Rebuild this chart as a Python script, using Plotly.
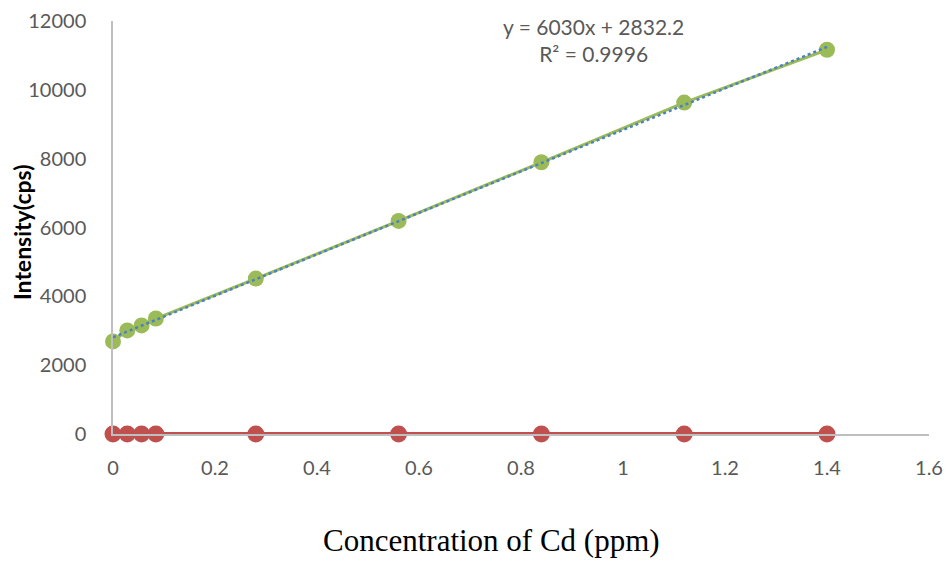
import numpy as np
import plotly.graph_objects as go

conc = [0, 0.028, 0.056, 0.084, 0.28, 0.56, 0.84, 1.12, 1.4]
intensity = [2690, 3010, 3155, 3355, 4515, 6190, 7895, 9630, 11165]
blank = [0, 0, 0, 0, 0, 0, 0, 0, 0]
equation_text = "y = 6030x + 2832.2<br>R² = 0.9996"
x_title = "Concentration of Cd (ppm)"
y_title = "<b>Intensity(cps)</b>"
x_ticks = [0, 0.2, 0.4, 0.6, 0.8, 1, 1.2, 1.4, 1.6]
x_tick_text = ["0", "0.2", "0.4", "0.6", "0.8", "1", "1.2", "1.4", "1.6"]
y_ticks = [0, 2000, 4000, 6000, 8000, 10000, 12000]

GREEN = "#9BBB59"
RED = "#C0504D"
BLUE = "#4F81BD"
GRAY = "#595959"

slope, intercept = np.polyfit(conc, intensity, 1)
trend_x = [min(conc), max(conc)]
trend_y = [slope * v + intercept for v in trend_x]

fig = go.Figure()
fig.add_trace(go.Scatter(x=conc, y=blank, mode="lines+markers",
                         line=dict(color=RED, width=4),
                         marker=dict(color=RED, size=17),
                         cliponaxis=False, showlegend=False))
fig.add_trace(go.Scatter(x=conc, y=intensity, mode="lines+markers",
                         line=dict(color=GREEN, width=3),
                         marker=dict(color=GREEN, size=16),
                         cliponaxis=False, showlegend=False))
fig.add_trace(go.Scatter(x=trend_x, y=trend_y, mode="lines",
                         line=dict(color=BLUE, width=2.5, dash="dot"),
                         cliponaxis=False, showlegend=False))

fig.add_annotation(x=0.943, y=11440, xref="x", yref="y", text=equation_text,
                   showarrow=False, align="center", yanchor="middle",
                   font=dict(family="Lato", size=21, color=GRAY))
fig.add_annotation(x=0.464, y=-0.259, xref="paper", yref="paper", text=x_title,
                   showarrow=False, xanchor="center", yanchor="middle",
                   font=dict(family="Liberation Serif", size=31, color="black"))
fig.add_annotation(x=-0.1115, y=0.489, xref="paper", yref="paper", text=y_title,
                   showarrow=False, textangle=-90, xanchor="center", yanchor="middle",
                   font=dict(family="Lato", size=23, color="black"))

fig.update_layout(
    width=943, height=555,
    margin=dict(l=105, r=22, t=13, b=129),
    plot_bgcolor="white", paper_bgcolor="white",
    font=dict(family="Lato", color=GRAY),
    xaxis=dict(range=[0, 1.6], tickvals=x_ticks, ticktext=x_tick_text,
               showgrid=False, zeroline=False, showline=True,
               linecolor="#BFBFBF", linewidth=1.5, automargin=False,
               tickfont=dict(family="Lato", size=20, color=GRAY),
               ticks="", ticklabelstandoff=15, ticklabeloverflow="allow"),
    yaxis=dict(range=[0, 12000], tickvals=y_ticks, tickformat="d",
               showgrid=False, zeroline=False, showline=True,
               linecolor="#BFBFBF", linewidth=1.5, automargin=False,
               tickfont=dict(family="Lato", size=20, color=GRAY),
               ticks="", ticklabelstandoff=21, ticklabeloverflow="allow"),
)

fig.write_html("out.html")
